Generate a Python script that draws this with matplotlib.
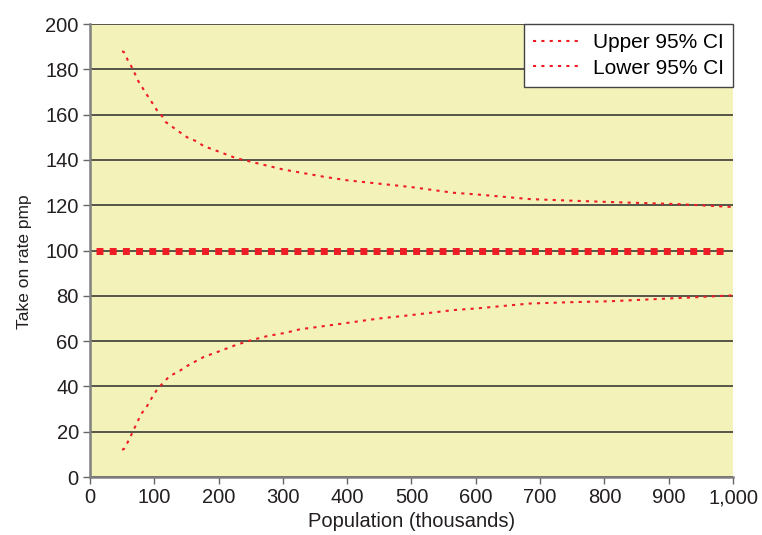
import matplotlib.pyplot as plt
from matplotlib.ticker import FuncFormatter

# population (thousands) and 95% control limits
upper_x = [50, 53, 59, 65, 76, 89, 98, 104, 113, 118, 137, 151, 165, 177,
           202, 227, 240, 300, 365, 400, 450, 500, 565, 600, 684, 750, 809,
           914, 1000]
upper_ci = [188, 187.6, 184, 181, 174.4, 168.6, 164.7, 162, 159, 156.7,
            152.8, 150, 148.3, 146.1, 143.5, 140.8, 139.9, 135.8, 132.5, 131,
            129.5, 128, 125.5, 124.8, 122.7, 122, 121.4, 120.5, 119.2]
lower_x = [50, 53, 59, 65, 76, 81, 88, 98, 104, 112, 124, 137, 151, 165,
           177, 202, 227, 252, 277, 303, 328, 353, 376, 450, 500, 565, 600,
           684, 750, 809, 914, 1000]
lower_ci = [12, 12.4, 15.5, 19, 25.6, 28.3, 30.9, 35.8, 38.4, 41, 44.6, 46.4,
            49, 51.2, 53, 55.6, 58.3, 60.5, 62.3, 63.6, 65.3, 66.2, 67.1, 70,
            71.5, 73.7, 74.4, 76.6, 77.2, 77.6, 79, 80.2]
mean_x = [9, 987]
mean_rate = [100, 100]

plt.rcParams['font.family'] = ['Liberation Sans', 'DejaVu Sans']

fig = plt.figure(figsize=(7.62, 5.35), dpi=100)
ax = fig.add_axes([0.118, 0.1084, 0.844, 0.8467])
ax.set_facecolor('#F3F3B9')

red = '#EE1C25'
ax.plot(mean_x, mean_rate, color=red, lw=5.0, linestyle=(0, (1.0, 0.9)),
        dash_capstyle='butt', zorder=3)
ax.plot(upper_x, upper_ci, color=red, lw=1.5, linestyle=(0, (1.5, 2.5)),
        dash_capstyle='butt', label='Upper 95% CI', zorder=4)
ax.plot(lower_x, lower_ci, color=red, lw=1.5, linestyle=(0, (1.5, 2.5)),
        dash_capstyle='butt', label='Lower 95% CI', zorder=4)

ax.set_xlim(0, 1000)
ax.set_ylim(0, 200)
ax.set_xticks(range(0, 1001, 100))
ax.set_yticks(range(0, 201, 20))
ax.xaxis.set_major_formatter(FuncFormatter(lambda v, p: '{:,.0f}'.format(v)))
ax.yaxis.grid(True, color='#2a2a2a', lw=1.1)
ax.set_axisbelow(True)

for s in ['top', 'right']:
    ax.spines[s].set_visible(False)
for s in ['left', 'bottom']:
    ax.spines[s].set_color('#808080')
    ax.spines[s].set_linewidth(1.8)
ax.tick_params(colors='#666666', labelcolor='#231F20', labelsize=14.5,
               length=5, width=1, pad=3)

ax.set_xlabel('Population (thousands)', fontsize=14.5, color='#231F20')
ax.xaxis.set_label_coords(0.5, -0.078)
ax.set_ylabel('Take on rate pmp', fontsize=12.5, color='#231F20')
ax.yaxis.set_label_coords(-0.09, 0.475)

leg = ax.legend(loc='upper right', fontsize=15, borderaxespad=0,
                fancybox=False, framealpha=1, edgecolor='#444444',
                handlelength=2.4, handletextpad=0.45, borderpad=0.45,
                labelspacing=0.3)
leg.get_frame().set_linewidth(1.0)

fig.savefig('out.png', dpi=100)
